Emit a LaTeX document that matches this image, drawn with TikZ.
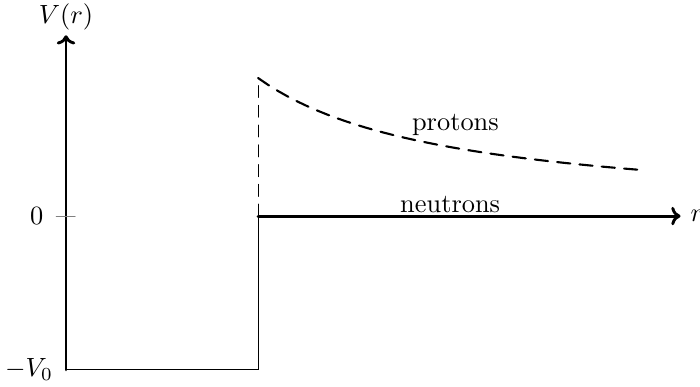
\documentclass[tikz,border=0pt]{standalone}
\usetikzlibrary{arrows.meta}

\begin{document}
\begin{tikzpicture}[every node/.style={font=\normalsize}, line cap=round]
  \useasboundingbox (-0.88,-2.27) rectangle (8.45,2.88);
  \coordinate (o) at (0,0);
  \coordinate (ytop) at (0,2.41);
  \coordinate (ybot) at (0,-2.05);
  \coordinate (wbot) at (2.56,-2.05);
  \coordinate (wzero) at (2.56,0);
  \coordinate (wtop) at (2.56,1.84);
  \coordinate (xtip) at (8.19,0);
  \coordinate (tl) at (-0.13,0);
  \coordinate (tr) at (0.12,0);

  % square well
  \draw (ybot) -- (wbot) -- (wzero);
  \draw[dash pattern=on 4.5pt off 3pt] (wzero) -- (wtop);

  % axes
  \draw[line width=1.1pt,-{To[length=3.5pt,width=7pt]}] (ybot) -- (ytop) node[above, inner sep=1.5pt] (vlab) {$V(r)$};
  \draw[line width=1.1pt,-{To[length=3.5pt,width=7pt]}] (wzero) -- (xtip) node[right] (rlab) {$r$};
  \draw[gray] (tl) -- (tr);
  \foreach \p/\lab in {tl/{$0$},ybot/{$-V_0$}}
    \node[left, xshift=-0.05cm] at (\p) {\lab};

  % coulomb tail
  \draw[thick, dash pattern=on 5pt off 3.5pt, domain=2.56:7.65, samples=40] plot (\x,{4.71/\x});
  \node (plab) at (5.19,1.21) {protons};
  \node[above, inner sep=1pt] (nlab) at (5.12,0) {neutrons};
\end{tikzpicture}
\end{document}
